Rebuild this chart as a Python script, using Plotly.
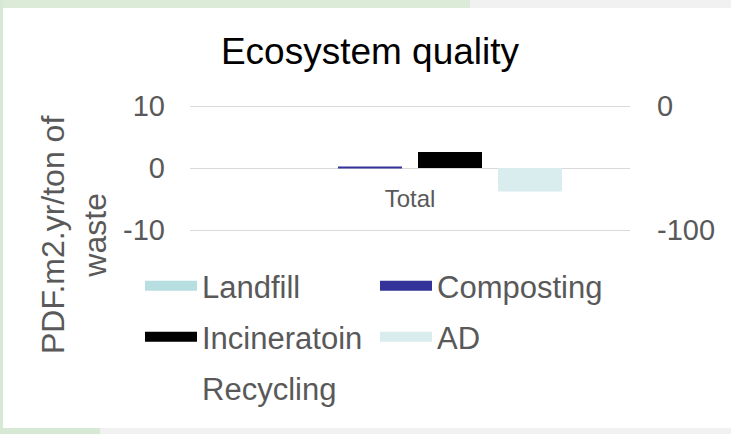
import plotly.graph_objects as go

# data
categories = ["Total"]
series_names = ["Landfill", "Composting", "Incineratoin", "AD"]
series_values = [[0.0], [0.1], [2.6], [-3.8]]
series_colors = ["#b7dfe2", "#333399", "#000000", "#d9ecee"]
recycling_values = [0.0]
left_ticks = [-10, 0, 10]
left_labels = ["-10", "0", "10"]
right_ticks = [-100, 0]
right_labels = ["-100", "0"]

W, H = 731, 434
ML, MR, MT, MB = 100, 30, 0, 0
PW = W - ML - MR
PH = H - MT - MB
FONT = "Liberation Sans, Arial, sans-serif"
GREY = "#595959"


def px(x):
    return (x - ML) / PW


def py(y):
    return 1 - (y - MT) / PH


fig = go.Figure()
for name, vals, col in zip(series_names, series_values, series_colors):
    fig.add_trace(go.Bar(x=categories, y=vals, name=name, marker_color=col,
                         marker_line_width=0, showlegend=False))
fig.add_trace(go.Bar(x=categories, y=recycling_values, name="Recycling", yaxis="y2",
                     marker_color="rgba(0,0,0,0)", marker_line_width=0, showlegend=False))

# legend entries, one legend per row
legend_rows = [("legend", ["Landfill", "Composting"]),
               ("legend2", ["Incineratoin", "AD"]),
               ("legend3", ["Recycling"])]
colors = dict(zip(series_names, series_colors))
colors["Recycling"] = "rgba(0,0,0,0)"
for lg, names in legend_rows:
    for n in names:
        fig.add_trace(go.Scatter(x=[None], y=[None], mode="lines", name=n,
                                 line=dict(color=colors[n], width=15), legend=lg))

legend_base = dict(orientation="h", xanchor="left", yanchor="top", x=px(140),
                   font=dict(size=31, color=GREY, family=FONT), itemwidth=52,
                   entrywidth=168, bgcolor="rgba(0,0,0,0)", tracegroupgap=0)

fig.update_layout(
    width=W, height=H,
    margin=dict(l=ML, r=MR, t=MT, b=MB, autoexpand=False),
    paper_bgcolor="#f1f1f1", plot_bgcolor="rgba(0,0,0,0)",
    font=dict(family=FONT, color=GREY),
    barmode="group", bargap=0.2727, bargroupgap=0.2,
    title=dict(text="Ecosystem quality", font=dict(size=37, color="#000000", family=FONT),
               xref="container", yref="container", x=370 / W, y=1 - 51 / H,
               xanchor="center", yanchor="middle"),
    xaxis=dict(type="category", domain=[px(190), px(630)], range=[-0.5, 0.5],
               anchor="free", position=py(182), showgrid=False, showline=False,
               ticks="", tickfont=dict(size=24, color=GREY), automargin=False),
    yaxis=dict(domain=[py(232.48), py(103.52)], range=[-10.4, 10.4],
               tickvals=left_ticks, ticktext=left_labels,
               gridcolor="#d9d9d9", gridwidth=1, zeroline=False, showline=False,
               tickfont=dict(size=29, color=GREY), ticklabelstandoff=24, automargin=False),
    yaxis2=dict(overlaying="y", side="right", anchor="x", range=[-102, 2],
                tickvals=right_ticks, ticktext=right_labels,
                showgrid=False, zeroline=False, showline=False,
                tickfont=dict(size=29, color=GREY), ticklabelstandoff=26, automargin=False),
    legend=dict(legend_base, y=py(259)),
    legend2=dict(legend_base, y=py(310)),
    legend3=dict(legend_base, y=py(361)),
    annotations=[dict(text="PDF.m2.yr/ton of<br>waste", textangle=-90, showarrow=False,
                      x=px(74), y=py(235), xref="paper", yref="paper",
                      xanchor="center", yanchor="middle",
                      font=dict(size=32, color=GREY, family=FONT))],
    shapes=[
        dict(type="rect", xref="paper", yref="paper", layer="below", line_width=0,
             x0=px(0), x1=px(470), y0=py(8), y1=py(0), fillcolor="#dcebd8"),
        dict(type="rect", xref="paper", yref="paper", layer="below", line_width=0,
             x0=px(0), x1=px(3), y0=py(434), y1=py(0), fillcolor="#d6e9d5"),
        dict(type="rect", xref="paper", yref="paper", layer="below", line_width=0,
             x0=px(0), x1=px(100), y0=py(434), y1=py(428), fillcolor="#d6e9d5"),
        dict(type="rect", xref="paper", yref="paper", layer="below", line_width=0,
             x0=px(3), x1=px(731), y0=py(428), y1=py(8), fillcolor="#ffffff"),
    ],
)

fig.write_html("out.html", config={"displayModeBar": False},
               post_script="document.body.style.margin='0px';")
